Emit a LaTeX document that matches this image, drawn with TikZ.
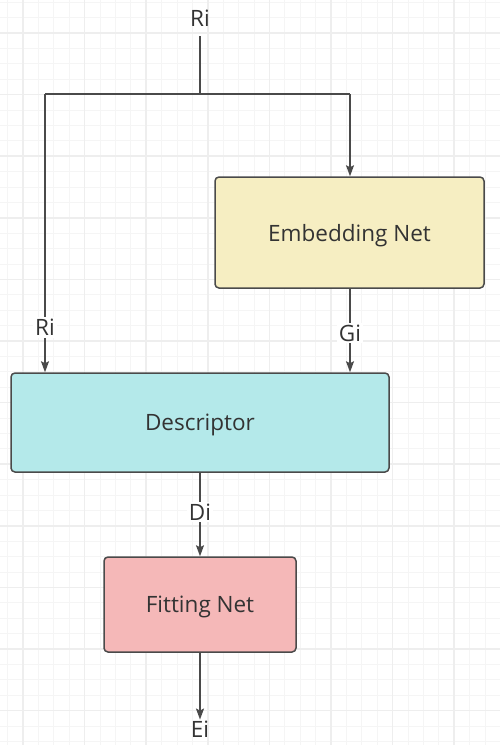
\documentclass[tikz,border=0pt]{standalone}
\usepackage{fontspec}
\setmainfont{Open Sans}
\usetikzlibrary{positioning,calc,arrows.meta}
\definecolor{embedfill}{HTML}{F6EEC2}
\definecolor{descfill}{HTML}{B4E9EA}
\definecolor{fitfill}{HTML}{F5B8B8}
\definecolor{edgegray}{HTML}{4A4A4A}
\definecolor{textgray}{HTML}{333333}
\definecolor{gridminor}{HTML}{F5F5F5}
\definecolor{gridmajor}{HTML}{EEEEEE}
\tikzstyle{flow}=[
  >={Stealth[length=11pt,width=8pt,inset=2pt]},x=1pt,y=-1pt,font=\fontsize{22.5}{27}\selectfont,text=textgray
]
\tikzstyle{netbox}=[
  draw=edgegray,rounded corners=4pt,line width=1.5pt,inner sep=0pt,text depth=0pt,yshift=-1pt
]
\tikzstyle{sig}=[
  fill=white,inner sep=2pt
]
\tikzstyle{link}=[
  draw=edgegray,line width=1.5pt
]
\begin{document}
\begin{tikzpicture}[flow]
  \useasboundingbox (0,0) rectangle (500,745);
  \fill[white] (0,0) rectangle (500,745);
  % grid
  \foreach \i in {0,...,32} {
    \draw[gridminor,line width=1pt] ({7.6+15.4*\i},0) -- ({7.6+15.4*\i},745);
  }
  \foreach \i in {0,...,48} {
    \draw[gridminor,line width=1pt] (0,{2.2+15.4*\i}) -- (500,{2.2+15.4*\i});
  }
  \foreach \i in {0,...,8} {
    \draw[gridmajor,line width=1.5pt] ({23+61.6*\i},0) -- ({23+61.6*\i},745);
  }
  \foreach \i in {0,...,12} {
    \draw[gridmajor,line width=1.5pt] (0,{33+61.6*\i}) -- (500,{33+61.6*\i});
  }
  % blocks
  \node (embed) at (349.5,231.5) [netbox,fill=embedfill,minimum width=269pt,minimum height=111pt] {Embedding Net};
  \node (desc) at (200,421.5) [netbox,fill=descfill,minimum width=378pt,minimum height=99pt] {Descriptor};
  \node (fit) at (200,603.5) [netbox,fill=fitfill,minimum width=192pt,minimum height=95pt] {Fitting Net};
  \node (ri) at (200,18) [inner sep=0pt] {Ri};
  \node (ei) at (200,729) [inner sep=1pt] {Ei};
  \coordinate (split) at (200,94);
  \coordinate (splitL) at (45,94);
  \coordinate (splitR) at (350,94);
  % connectors
  \draw [link,shorten <=10pt] (ri.south) -- (split);
  \draw [link] (splitL) -- (splitR);
  \draw [link,->] (splitR) -- (embed.north -| splitR);
  \draw [link,->] (splitL) -- node[sig,pos=0.84] (riLbl) {Ri} (desc.north -| splitL);
  \draw [link,->] (embed.south -| splitR) -- node[sig,pos=0.53] (giLbl) {Gi} (desc.north -| splitR);
  \draw [link,->] (desc.south) -- node[sig,pos=0.47] (diLbl) {Di} (fit.north);
  \draw [link,->] (fit.south) -- (ei.north);
\end{tikzpicture}
\end{document}
